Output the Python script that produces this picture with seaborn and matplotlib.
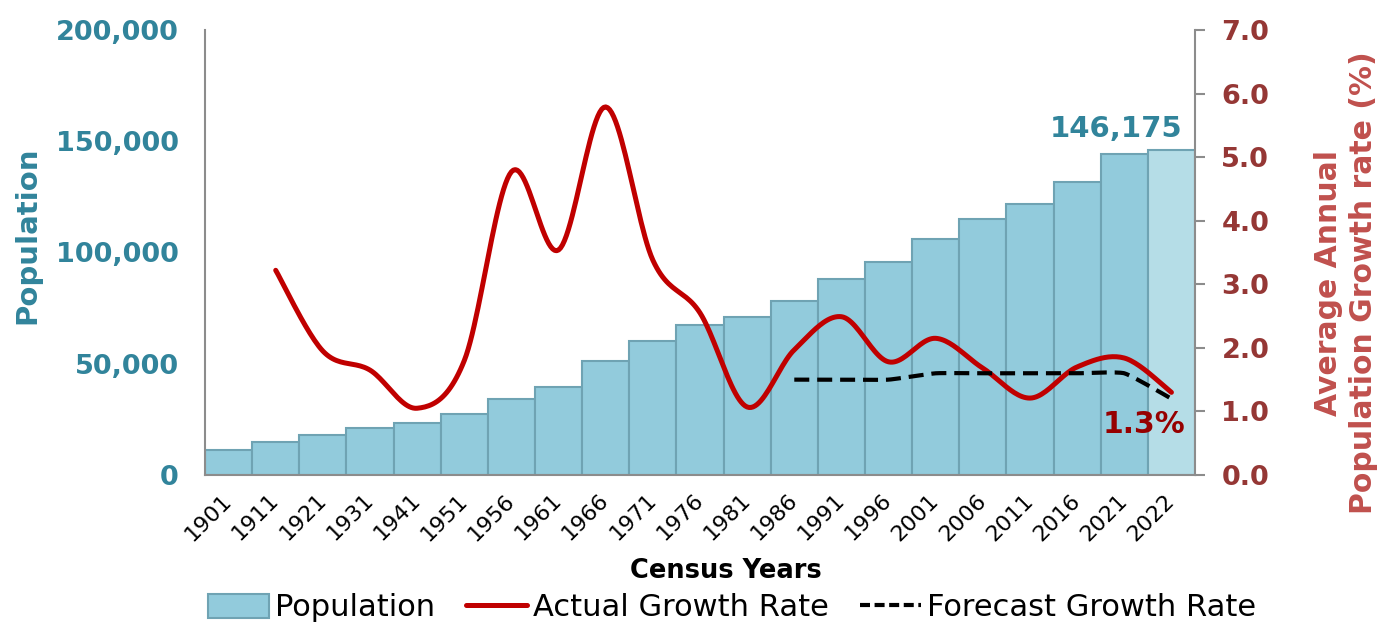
import numpy as np
import pandas as pd
import matplotlib
matplotlib.use("Agg")
import matplotlib.pyplot as plt
from matplotlib.patches import Patch
from matplotlib.lines import Line2D
import seaborn as sns

# Census years and population counts
years = ["1901", "1911", "1921", "1931", "1941", "1951", "1956", "1961", "1966", "1971",
         "1976", "1981", "1986", "1991", "1996", "2001", "2006", "2011", "2016", "2021", "2022"]
population = [11200, 15000, 18000, 21000, 23200, 27300, 34000, 39700, 51400, 60200,
              67600, 71200, 78300, 87900, 95700, 106100, 115100, 121800, 131800, 144400, 146175]

# Average annual growth rate (%) between census years
actual_growth = [np.nan, 3.22, 1.95, 1.65, 1.05, 1.80, 4.77, 3.54, 5.79, 3.38,
                 2.55, 1.07, 1.97, 2.49, 1.78, 2.15, 1.68, 1.21, 1.70, 1.84, 1.30]
forecast_growth = [np.nan] * 12 + [1.5, 1.5, 1.5, 1.6, 1.6, 1.6, 1.6, 1.6, 1.2]

TEAL = "#31849B"
BAR = "#92CBDC"
BAR_LAST = "#B5DDE7"
BAR_EDGE = "#6FA3B3"
RED = "#C00000"
RED_TICK = "#953735"
RED_LABEL = "#C0504D"
LABEL_RED = "#960000"
SPINE = "#8C8C8C"
DASH = (3.6, 1.9)


def smooth_curve(xs, ys, tension=1.0, n=24):
    """Cardinal spline through the given points (skipping missing values)."""
    xs = np.asarray(xs, float)
    ys = np.asarray(ys, float)
    ok = ~np.isnan(ys)
    pts = np.column_stack([xs[ok], ys[ok]])
    p = np.vstack([pts[0], pts, pts[-1]])
    t = np.linspace(0, 1, n, endpoint=False)[:, None]
    h00 = 2 * t ** 3 - 3 * t ** 2 + 1
    h10 = t ** 3 - 2 * t ** 2 + t
    h01 = -2 * t ** 3 + 3 * t ** 2
    h11 = t ** 3 - t ** 2
    segs = []
    for i in range(1, len(p) - 2):
        p0, p1, p2, p3 = p[i - 1], p[i], p[i + 1], p[i + 2]
        m1 = tension * (p2 - p0) / 2
        m2 = tension * (p3 - p1) / 2
        segs.append(h00 * p1 + h10 * m1 + h01 * p2 + h11 * m2)
    segs.append(pts[-1][None, :])
    out = np.vstack(segs)
    return out[:, 0], out[:, 1]


sns.set_theme(style="white")
plt.rcParams["font.family"] = ["DejaVu Sans"]

fig = plt.figure(figsize=(13.82, 6.23), dpi=100)
ax = fig.add_axes([205 / 1382, 148 / 623, 990 / 1382, 445 / 623])

df = pd.DataFrame({"year": years, "population": population})
palette = [BAR] * (len(years) - 1) + [BAR_LAST]
sns.barplot(data=df, x="year", y="population", hue="year", palette=palette,
            legend=False, width=1.0, edgecolor=BAR_EDGE, linewidth=1.5,
            saturation=1.0, ax=ax, zorder=2)

ax.set_xlim(-0.5, len(years) - 0.5)
ax.set_ylim(0, 200000)
ax.set_yticks([0, 50000, 100000, 150000, 200000])
ax.set_yticklabels([f"{v:,}" for v in [0, 50000, 100000, 150000, 200000]])
ax.tick_params(axis="y", length=0, pad=19, labelsize=19.5, labelcolor=TEAL)
for lbl in ax.get_yticklabels():
    lbl.set_fontweight("bold")
ax.tick_params(axis="x", length=0, pad=16, labelsize=16, labelcolor="black")
for lbl in ax.get_xticklabels():
    lbl.set_rotation(45)
    lbl.set_ha("right")
    lbl.set_va("center")
    lbl.set_rotation_mode("anchor")
ax.set_xlabel("")
ax.set_ylabel("")
for side in ["top", "right"]:
    ax.spines[side].set_visible(False)
for side in ["left", "bottom"]:
    ax.spines[side].set_color(SPINE)
    ax.spines[side].set_linewidth(1.5)

# Growth-rate axis
ax2 = ax.twinx()
ax2.set_ylim(0, 7)
ax2.set_yticks(np.arange(0, 7.01, 1.0))
ax2.set_yticklabels([f"{v:.1f}" for v in np.arange(0, 7.01, 1.0)])
ax2.tick_params(axis="y", length=7, width=1.5, color=SPINE, pad=12,
                labelsize=19.5, labelcolor=RED_TICK)
for lbl in ax2.get_yticklabels():
    lbl.set_fontweight("bold")
for side in ["top", "left", "bottom"]:
    ax2.spines[side].set_visible(False)
ax2.spines["right"].set_color(SPINE)
ax2.spines["right"].set_linewidth(1.5)

xpos = np.arange(len(years))
gx, gy = smooth_curve(xpos, actual_growth)
sns.lineplot(x=gx, y=gy, sort=False, estimator=None, color=RED,
             linewidth=3.6, ax=ax2)
fx, fy = smooth_curve(xpos, forecast_growth, tension=0.45)
sns.lineplot(x=fx, y=fy, sort=False, estimator=None, color="black",
             linewidth=3.0, ax=ax2)
ax2.lines[-1].set_dashes(DASH)
ax2.set_xlim(-0.5, len(years) - 0.5)
ax2.set_ylabel("")

# Value labels for the latest census year
ax.annotate(f"{population[-1]:,}", xy=(len(years) - 1, population[-1]),
            xytext=(11, 13), textcoords="offset pixels", ha="right", va="baseline",
            fontsize=21, fontweight="bold", color=TEAL, zorder=5)
ax2.annotate(f"{actual_growth[-1]:.1f}%", xy=(len(years) - 1, actual_growth[-1]),
             xytext=(14, -41), textcoords="offset pixels", ha="right", va="baseline",
             fontsize=21.5, fontweight="bold", color=LABEL_RED, zorder=5)

# Axis titles
fig.text(27 / 1382, 1 - 235 / 623, "Population", rotation=90, ha="center", va="center",
         fontsize=21, fontweight="bold", color=TEAL)
fig.text(1346 / 1382, 1 - 283 / 623, "Average Annual\nPopulation Growth rate (%)",
         rotation=90, ha="center", va="center", multialignment="center",
         linespacing=1.3, fontsize=21.5, fontweight="bold", color=RED_LABEL)
fig.text(726 / 1382, 1 - 571 / 623, "Census Years", ha="center", va="center",
         fontsize=18.5, fontweight="bold", color="black")

handles = [
    Patch(facecolor=BAR, edgecolor=BAR_EDGE, linewidth=1.5, label="Population"),
    Line2D([0], [0], color=RED, linewidth=3.6, label="Actual Growth Rate"),
    Line2D([0], [0], color="black", linewidth=3.0, dashes=(2.4, 1.1), label="Forecast Growth Rate"),
]
leg = fig.legend(handles=handles, loc="center", bbox_to_anchor=(732 / 1382, 1 - 608 / 623),
                 ncol=3, frameon=False, fontsize=22, handlelength=2.0, handleheight=0.8,
                 handletextpad=0.2, columnspacing=1.0, borderaxespad=0, borderpad=0)
for txt in leg.get_texts():
    txt.set_color("black")

fig.savefig("out.png", dpi=100)
